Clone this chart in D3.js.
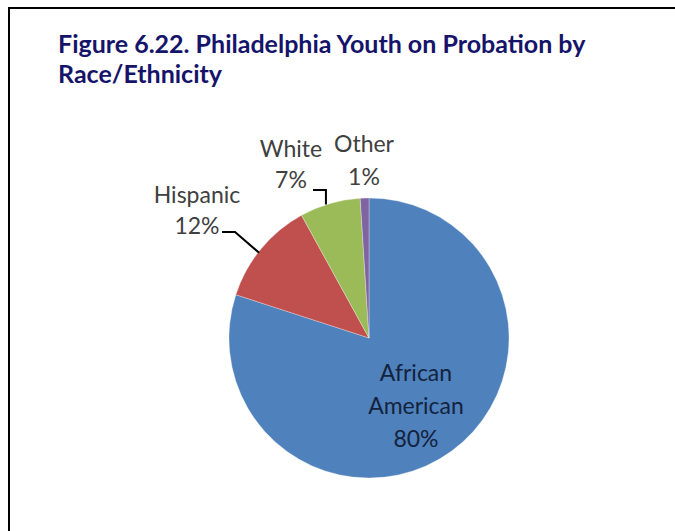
<!DOCTYPE html>
<html>
<head>
<meta charset="utf-8">
<script src="https://cdn.jsdelivr.net/npm/d3@7"></script>
<style>
  html, body { margin: 0; padding: 0; background: #fff; }
  svg { display: block; }
</style>
</head>
<body>
<svg id="chart" width="675" height="531"></svg>
<script>
// Race/ethnicity breakdown of Philadelphia youth on probation (percent)
const categories = ["African American", "Hispanic", "White", "Other"];
const values = [80, 12, 7, 1];
const colors = ["#4F81BD", "#C0504D", "#9BBB59", "#8064A2"];
const titleLines = ["Figure 6.22. Philadelphia Youth on Probation by", "Race/Ethnicity"];

const W = 675, H = 531;
const svg = d3.select("#chart");
const font = "Lato, 'Open Sans', sans-serif";

// outer frame (top and left rules)
svg.append("path")
  .attr("d", `M9,${H} L9,8 L${W},8`)
  .attr("fill", "none").attr("stroke", "#000").attr("stroke-width", 2);

// title
const title = svg.append("text")
  .attr("font-family", font).attr("font-weight", 700)
  .attr("font-size", 25).attr("fill", "#15146a");
titleLines.forEach((t, i) => {
  title.append("tspan").attr("x", 58).attr("y", 53 + i * 30).text(t);
});

// pie
const cx = 369, cy = 338, R = 140;
const color = d3.scaleOrdinal().domain(categories).range(colors);
const pie = d3.pie().sort(null).value(d => d.value);
const data = categories.map((c, i) => ({ name: c, value: values[i] }));
const arcs = pie(data);
const arc = d3.arc().innerRadius(0).outerRadius(R);
const edge = d3.arc().innerRadius(R).outerRadius(R);

const g = svg.append("g").attr("transform", `translate(${cx},${cy})`);
g.selectAll("path.slice").data(arcs).join("path")
  .attr("class", "slice")
  .attr("d", arc)
  .attr("fill", d => color(d.data.name))
  .attr("stroke", "#fff").attr("stroke-width", 0.6).attr("stroke-opacity", 0.5);

const labelColor = "#404040";
const fs = 23;
function label(lines, x, y, step, fill) {
  const t = g.append("text")
    .attr("font-family", font).attr("font-size", fs)
    .attr("fill", fill || labelColor).attr("text-anchor", "middle");
  lines.forEach((l, i) => t.append("tspan").attr("x", x).attr("y", y + i * step).text(l));
}

const pct = v => v + "%";
const byName = n => arcs.find(a => a.data.name === n);

// African American label inside its slice
label(["African", "American", pct(byName("African American").data.value)], 47, 43, 33, "#14233d");

// Hispanic label with elbow leader
label(["Hispanic", pct(byName("Hispanic").data.value)], -172, -135, 31);
{
  const [ex, ey] = edge.centroid(byName("Hispanic"));
  g.append("path")
    .attr("d", `M${-147},${-106} L${-134},${-106} L${ex - 2},${ey + 4}`)
    .attr("fill", "none").attr("stroke", "#000").attr("stroke-width", 2);
}

// White label with bracket leader
label(["White", pct(byName("White").data.value)], -78, -181, 31);
{
  const [ex, ey] = edge.centroid(byName("White"));
  g.append("path")
    .attr("d", `M${-56},${-148} L${ex - 4},${-148} L${ex - 4},${ey + 1}`)
    .attr("fill", "none").attr("stroke", "#000").attr("stroke-width", 2);
}

// Other label
label(["Other", pct(byName("Other").data.value)], -5, -186, 33);
</script>
</body>
</html>
